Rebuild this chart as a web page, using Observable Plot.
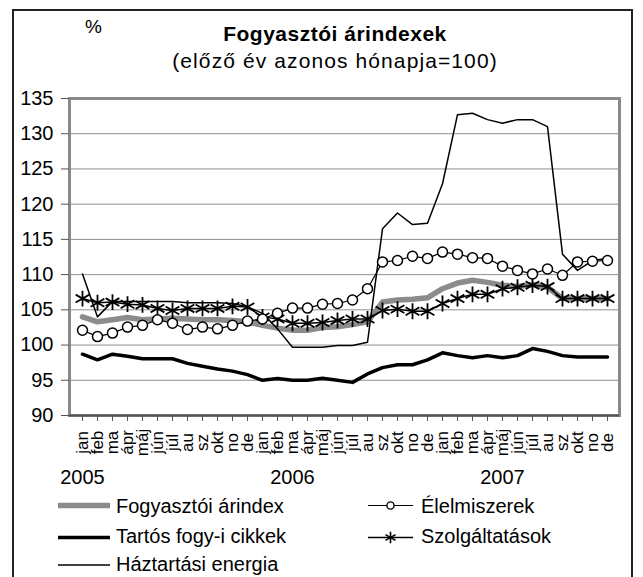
<!DOCTYPE html>
<html>
<head>
<meta charset="utf-8">
<script src="https://cdn.jsdelivr.net/npm/d3@7"></script>
<script src="https://cdn.jsdelivr.net/npm/@observablehq/plot@0.6"></script>
<style>
  body { margin: 0; background: #fff; font-family: "Liberation Sans", Arial, sans-serif; }
  #wrap { position: relative; width: 643px; height: 577px; overflow: hidden; background: #fff; }
  #border { position: absolute; left: 12px; top: 9px; width: 621px; height: 620px; border: 2px solid #222; box-sizing: border-box; }
  #chart { position: absolute; left: 0; top: 0; }
  #overlay { position: absolute; left: 0; top: 0; pointer-events: none; }
</style>
</head>
<body>
<div id="wrap">
  <div id="border"></div>
  <div id="chart"></div>
  <svg id="overlay" width="643" height="577"></svg>
</div>
<script>
// ---- data ----
const monthLabels = ["jan","feb","ma","ápr","máj","jún","júl","au","sz","okt","no","de"];
const yearLabels = ["2005","2006","2007"];
const yearLabelMonth = [0, 2, 4]; // month index under which each year label sits
const yTicks = [90, 95, 100, 105, 110, 115, 120, 125, 130, 135];

const fogyasztoi = [104.0,103.3,103.6,103.9,103.6,103.7,103.8,103.7,103.6,103.6,103.5,103.3,
                    102.8,102.4,102.1,102.1,102.5,102.6,102.9,103.3,106.1,106.4,106.5,106.7,
                    108.0,108.8,109.2,108.9,108.5,108.3,108.6,108.2,106.6,106.6,106.6,106.6];
const elelmiszerek = [102.1,101.2,101.7,102.55,102.8,103.6,103.1,102.2,102.55,102.3,102.8,103.4,
                      103.7,104.5,105.25,105.25,105.8,105.9,106.4,108.0,111.8,112.0,112.6,112.3,
                      113.2,112.9,112.4,112.3,111.2,110.6,110.1,110.8,109.9,111.8,111.9,112.0];
const tartos = [98.7,97.9,98.7,98.4,98.05,98.05,98.05,97.4,97.0,96.6,96.3,95.8,
                95.0,95.25,95.0,95.0,95.3,95.0,94.7,95.9,96.8,97.2,97.2,97.9,
                98.9,98.5,98.2,98.5,98.2,98.5,99.5,99.1,98.5,98.3,98.3,98.3];
const szolgaltatasok = [106.6,106.0,106.1,105.8,105.7,105.2,104.9,105.2,105.2,105.2,105.5,105.4,
                        104.0,103.7,103.1,103.1,103.2,103.5,103.7,103.7,104.9,105.1,104.8,104.8,
                        105.9,106.6,107.2,107.2,108.0,108.2,108.5,108.3,106.6,106.6,106.6,106.6];
const energia = [110.1,104.0,106.2,106.2,106.2,106.2,106.2,106.0,106.0,106.0,105.9,105.4,
                 104.5,102.3,99.7,99.7,99.7,99.95,99.95,100.4,116.5,118.75,117.1,117.3,
                 122.9,132.7,132.9,132.0,131.5,132.0,132.0,131.0,112.9,110.6,112.0,112.3];

// ---- table built from arrays ----
const keys = [];
yearLabels.forEach(y => monthLabels.forEach((m, i) => keys.push(y + "-" + i)));
const rows = keys.map((k, i) => ({
  key: k, month: monthLabels[i % 12],
  fogyasztoi: fogyasztoi[i], elelmiszerek: elelmiszerek[i], tartos: tartos[i],
  szolgaltatasok: szolgaltatasok[i], energia: energia[i]
}));
const yearRows = yearLabels.map((y, i) => ({key: y + "-" + yearLabelMonth[i], label: y}));

const FONT = "Liberation Sans, Arial, sans-serif";

const chart = Plot.plot({
  width: 643, height: 577,
  marginLeft: 69, marginRight: 24, marginTop: 98, marginBottom: 162,
  style: {fontFamily: FONT, fontSize: "20px", color: "#000", background: "transparent", overflow: "visible"},
  x: {type: "point", domain: keys, padding: 0, axis: null, label: null},
  y: {domain: [90, 135], axis: null, label: null},
  marks: [
    Plot.gridY(yTicks, {stroke: "#8f8f8f", strokeOpacity: 1, strokeWidth: 1}),
    Plot.frame({stroke: "#8a8a8a", strokeWidth: 3}),
    Plot.ruleY([90], {stroke: "#555", strokeWidth: 2}),
    Plot.axisY(yTicks, {tickSize: 8, tickPadding: 8, stroke: "#555", fontSize: 20, label: null, tickFormat: d => String(d)}),
    Plot.axisX(keys, {tickSize: 6, stroke: "#555", label: null, tickFormat: () => ""}),
    Plot.text(rows, {x: "key", text: "month", frameAnchor: "bottom", dy: 27, rotate: -90,
                     textAnchor: "middle", lineAnchor: "middle", fontSize: 17, fill: "#000"}),
    Plot.text(yearRows, {x: "key", text: "label", frameAnchor: "bottom", dy: 62,
                         textAnchor: "middle", lineAnchor: "middle", fontSize: 20, fill: "#000"}),
    Plot.line(rows, {x: "key", y: "fogyasztoi", stroke: "#8c8c8c", strokeWidth: 5.5}),
    Plot.line(rows, {x: "key", y: "tartos", stroke: "#000", strokeWidth: 3.5}),
    Plot.line(rows, {x: "key", y: "szolgaltatasok", stroke: "#000", strokeWidth: 1.5}),
    Plot.dot(rows, {x: "key", y: "szolgaltatasok", symbol: "asterisk", r: 7.5, stroke: "#000", strokeWidth: 1.8}),
    Plot.line(rows, {x: "key", y: "energia", stroke: "#000", strokeWidth: 1.5}),
    Plot.line(rows, {x: "key", y: "elelmiszerek", stroke: "#000", strokeWidth: 1.2}),
    Plot.dot(rows, {x: "key", y: "elelmiszerek", r: 5, fill: "#fff", stroke: "#000", strokeWidth: 1.5})
  ]
});
document.getElementById("chart").appendChild(chart);

// ---- title & legend overlay ----
const ov = d3.select("#overlay");
ov.append("text").attr("x", 85).attr("y", 33).attr("font-family", FONT).attr("font-size", 19).text("%");
ov.append("text").attr("x", 335).attr("y", 41).attr("text-anchor", "middle").attr("font-family", FONT)
  .attr("font-size", 21).attr("font-weight", "bold").attr("letter-spacing", 0.5).text("Fogyasztói árindexek");
ov.append("text").attr("x", 335).attr("y", 68).attr("text-anchor", "middle").attr("font-family", FONT)
  .attr("font-size", 21).attr("letter-spacing", 1.1).text("(előző év azonos hónapja=100)");

const legendItems = [
  {label: "Fogyasztói árindex", col: 0, row: 0, stroke: "#8c8c8c", w: 5.5, marker: null},
  {label: "Élelmiszerek", col: 1, row: 0, stroke: "#000", w: 1.2, marker: "circle"},
  {label: "Tartós fogy-i cikkek", col: 0, row: 1, stroke: "#000", w: 3.5, marker: null},
  {label: "Szolgáltatások", col: 1, row: 1, stroke: "#000", w: 1.5, marker: "asterisk"},
  {label: "Háztartási energia", col: 0, row: 2, stroke: "#000", w: 1.5, marker: null}
];
const rowY = [505.5, 537.5, 565];
const rowBase = [512.5, 543, 571];
const colX = [[58, 110, 116], [368, 413, 421]];
legendItems.forEach(it => {
  const [x1, x2, tx] = colX[it.col];
  const y = rowY[it.row];
  ov.append("line").attr("x1", x1).attr("x2", x2).attr("y1", y).attr("y2", y)
    .attr("stroke", it.stroke).attr("stroke-width", it.w);
  const cx = (x1 + x2) / 2;
  if (it.marker === "circle") {
    ov.append("circle").attr("cx", cx).attr("cy", y).attr("r", 3.6).attr("fill", "#fff").attr("stroke", "#000").attr("stroke-width", 1.4);
  } else if (it.marker === "asterisk") {
    ov.append("path").attr("transform", `translate(${cx},${y})`)
      .attr("d", d3.symbol(d3.symbolAsterisk, Math.PI * 5.5 * 5.5)())
      .attr("fill", "none").attr("stroke", "#000").attr("stroke-width", 1.6);
  }
  ov.append("text").attr("x", tx).attr("y", rowBase[it.row]).attr("font-family", FONT)
    .attr("font-size", 20).text(it.label);
});
</script>
</body>
</html>
